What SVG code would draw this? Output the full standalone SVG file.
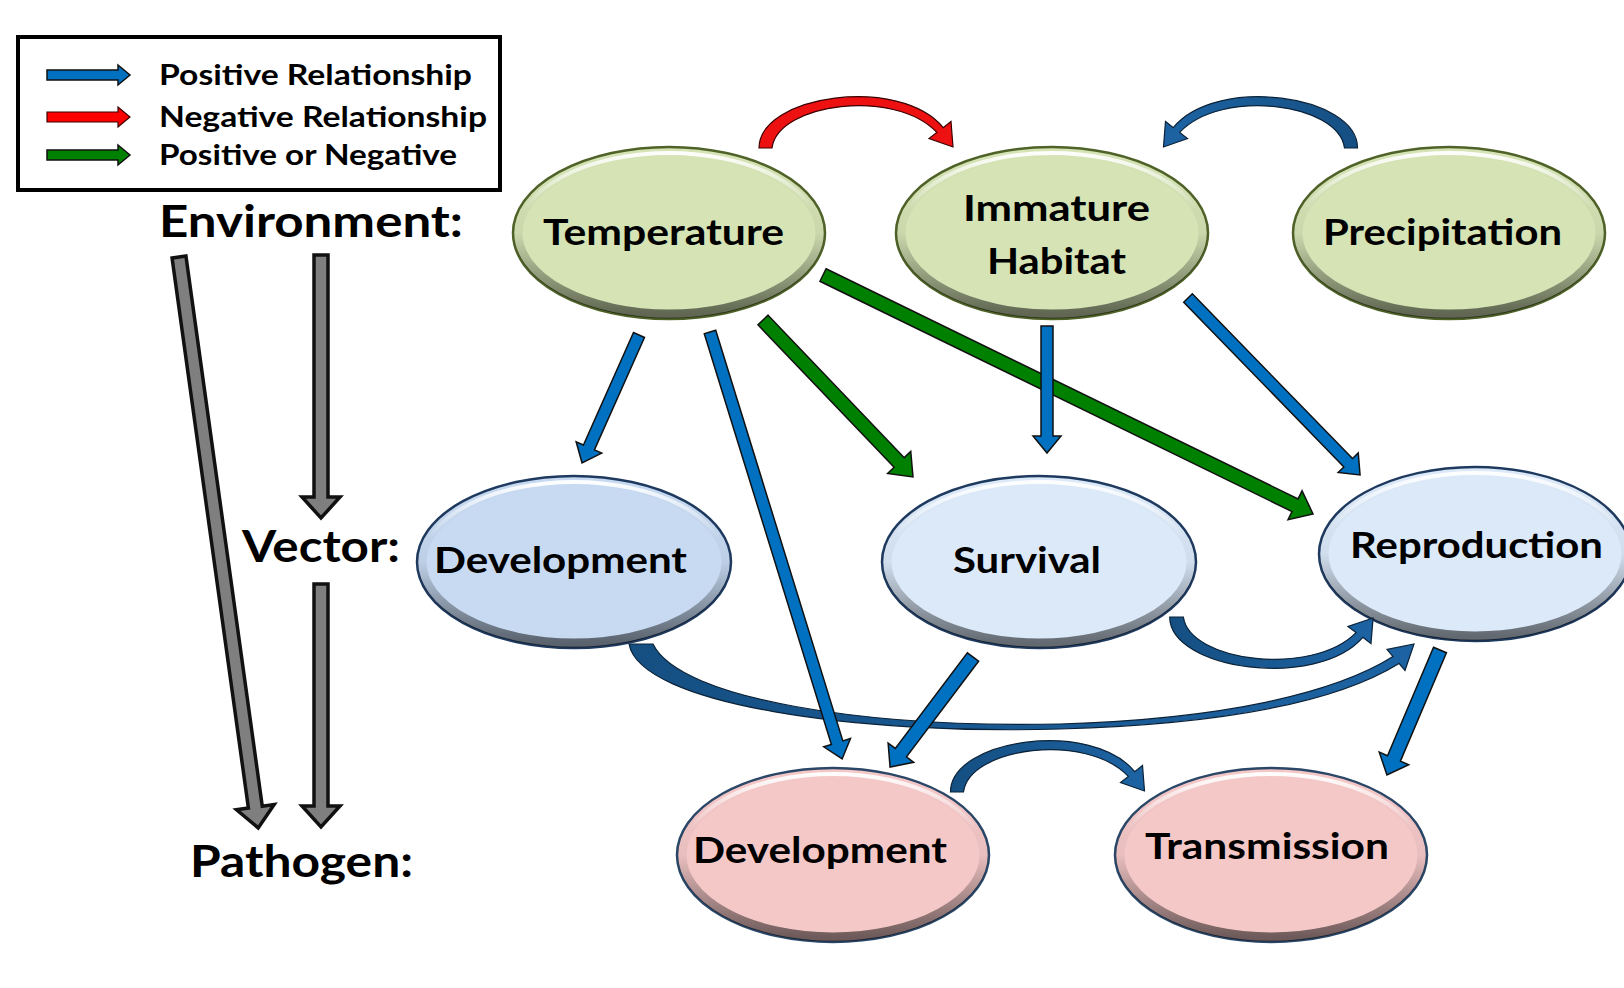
<svg xmlns="http://www.w3.org/2000/svg" xmlns:xlink="http://www.w3.org/1999/xlink" width="1624" height="988" viewBox="0 0 1624 988">
<defs>
<style>
.nt{font-family:Lato,"Liberation Sans",sans-serif;font-weight:bold;font-size:37px;fill:#000}
.lg{font-family:Lato,"Liberation Sans",sans-serif;font-weight:bold;font-size:29px;fill:#000}
.lb{font-family:Lato,"Liberation Sans",sans-serif;font-weight:bold;font-size:44px;fill:#000}
.env{fill:#d5e3b5;stroke:#4f6228;stroke-width:2.5}
.vec1{fill:#c7daf2;stroke:#1f3a5f;stroke-width:2.5}
.vec2{fill:#dbe9f9;stroke:#1f3a5f;stroke-width:2.5}
.pat{fill:#f5c8c8;stroke:#2b4768;stroke-width:2.5}
.rd{fill:none;stroke:url(#rimDark);stroke-width:9}
.rl{fill:none;stroke:url(#rimLight);stroke-width:4}
.pos{fill:#0070c0;stroke:#111;stroke-width:1.5;stroke-linejoin:miter}
.neg{fill:#ee1111;stroke:#3a0000;stroke-width:1.2}
.pon{fill:#008000;stroke:#111;stroke-width:1.5}
.gry{fill:#7f7f7f;stroke:#111;stroke-width:3.5}
.cb{fill:url(#curveBlue);stroke:#0b2238;stroke-width:1.2}
</style>
<linearGradient id="rimDark" x1="0" y1="0" x2="0" y2="1">
<stop offset="0" stop-color="#000" stop-opacity="0"/>
<stop offset="0.5" stop-color="#000" stop-opacity="0.05"/>
<stop offset="1" stop-color="#000" stop-opacity="0.55"/>
</linearGradient>
<linearGradient id="rimLight" x1="0" y1="0" x2="0" y2="1">
<stop offset="0" stop-color="#fff" stop-opacity="0.95"/>
<stop offset="0.35" stop-color="#fff" stop-opacity="0"/>
</linearGradient>
<linearGradient id="curveBlue" x1="0" y1="0" x2="1" y2="0">
<stop offset="0" stop-color="#154f82"/>
<stop offset="1" stop-color="#1d63a3"/>
</linearGradient>
<path id="arc" d="M759,148 C759,95 900,75 943.2,127.6 L951,121.5 L953,147 L929,138.5 L936.8,132.4 C895,88 778,103 772,148 Z"/>
</defs>
<rect width="1624" height="988" fill="#fff"/>

<g id="legend">
<rect x="18" y="37" width="482" height="153" fill="#fff" stroke="#000" stroke-width="4"/>
<polygon class="pos" points="47,70 118,70 118,65 130,75 118,85 118,80 47,80"/>
<polygon class="neg" points="47,112 118,112 118,107 130,117 118,127 118,122 47,122" style="fill:#ff0000"/>
<polygon class="pon" points="47,150 118,150 118,145 130,155 118,165 118,160 47,160"/>
<text class="lg" x="159" y="85" textLength="313" lengthAdjust="spacingAndGlyphs">Positive Relationship</text>
<text class="lg" x="159" y="127" textLength="328" lengthAdjust="spacingAndGlyphs">Negative Relationship</text>
<text class="lg" x="159" y="165" textLength="298" lengthAdjust="spacingAndGlyphs">Positive or Negative</text>
</g>

<g id="labels">
<text class="lb" x="159" y="237" textLength="304" lengthAdjust="spacingAndGlyphs">Environment:</text>
<text class="lb" x="242" y="562" textLength="158" lengthAdjust="spacingAndGlyphs">Vector:</text>
<text class="lb" x="190" y="877" textLength="223" lengthAdjust="spacingAndGlyphs">Pathogen:</text>
</g>

<g id="level-arrows">
<polygon class="gry" transform="translate(179,257) rotate(82.1)" points="0,-7 555.4,-7 555.4,-19 576.4,0 555.4,19 555.4,7 0,7"/>
<polygon class="gry" transform="translate(321,255) rotate(90)" points="0,-7 242,-7 242,-19 263,0 242,19 242,7 0,7"/>
<polygon class="gry" transform="translate(321,584) rotate(90)" points="0,-7 222,-7 222,-19 243,0 222,19 222,7 0,7"/>
</g>

<g id="n-temperature">
<ellipse class="env" cx="669" cy="233" rx="156" ry="86"/>
<ellipse class="rd" cx="669" cy="233" rx="151" ry="81"/>
<ellipse class="rl" cx="669" cy="233" rx="150" ry="80"/>
<text class="nt" x="543" y="245" textLength="241" lengthAdjust="spacingAndGlyphs">Temperature</text>
</g>
<g id="n-habitat">
<ellipse class="env" cx="1052" cy="233" rx="156" ry="86"/>
<ellipse class="rd" cx="1052" cy="233" rx="151" ry="81"/>
<ellipse class="rl" cx="1052" cy="233" rx="150" ry="80"/>
<text class="nt" x="963" y="221" textLength="187" lengthAdjust="spacingAndGlyphs">Immature</text>
<text class="nt" x="987" y="274" textLength="139" lengthAdjust="spacingAndGlyphs">Habitat</text>
</g>
<g id="n-precipitation">
<ellipse class="env" cx="1449" cy="233" rx="156" ry="86"/>
<ellipse class="rd" cx="1449" cy="233" rx="151" ry="81"/>
<ellipse class="rl" cx="1449" cy="233" rx="150" ry="80"/>
<text class="nt" x="1323" y="245" textLength="239" lengthAdjust="spacingAndGlyphs">Precipitation</text>
</g>
<g id="n-vdevelopment">
<ellipse class="vec1" cx="574" cy="562" rx="157" ry="86"/>
<ellipse class="rd" cx="574" cy="562" rx="152" ry="81"/>
<ellipse class="rl" cx="574" cy="562" rx="151" ry="80"/>
<text class="nt" x="434" y="573" textLength="253" lengthAdjust="spacingAndGlyphs">Development</text>
</g>
<g id="n-survival">
<ellipse class="vec2" cx="1039" cy="562" rx="157" ry="86"/>
<ellipse class="rd" cx="1039" cy="562" rx="152" ry="81"/>
<ellipse class="rl" cx="1039" cy="562" rx="151" ry="80"/>
<text class="nt" x="953" y="573" textLength="148" lengthAdjust="spacingAndGlyphs">Survival</text>
</g>
<g id="n-reproduction">
<ellipse class="vec2" cx="1475" cy="554" rx="156" ry="87"/>
<ellipse class="rd" cx="1475" cy="554" rx="151" ry="82"/>
<ellipse class="rl" cx="1475" cy="554" rx="150" ry="81"/>
<text class="nt" x="1350" y="558" textLength="253" lengthAdjust="spacingAndGlyphs">Reproduction</text>
</g>
<g id="n-pdevelopment">
<ellipse class="pat" cx="833" cy="855" rx="156" ry="87"/>
<ellipse class="rd" cx="833" cy="855" rx="151" ry="82"/>
<ellipse class="rl" cx="833" cy="855" rx="150" ry="81"/>
<text class="nt" x="693" y="863" textLength="254" lengthAdjust="spacingAndGlyphs">Development</text>
</g>
<g id="n-transmission">
<ellipse class="pat" cx="1271" cy="855" rx="156" ry="87"/>
<ellipse class="rd" cx="1271" cy="855" rx="151" ry="82"/>
<ellipse class="rl" cx="1271" cy="855" rx="150" ry="81"/>
<text class="nt" x="1145" y="859" textLength="244" lengthAdjust="spacingAndGlyphs">Transmission</text>
</g>

<g id="connectors">
<use href="#arc" xlink:href="#arc" class="neg"/>
<use href="#arc" xlink:href="#arc" class="cb" transform="translate(2116.5,0) scale(-1,1)"/>
<use href="#arc" xlink:href="#arc" class="cb" transform="matrix(1.048,0,0,-1,374.3,765)"/>
<use href="#arc" xlink:href="#arc" class="cb" transform="translate(191.5,644)"/>
<path class="cb" d="M629,644 C640,705 860,735 1060,729 C1230,724 1340,700 1399,663.4 L1405,670.5 L1414,644 L1387,649.5 L1393,656.6 C1335,693 1225,719 1060,724 C870,728 680,700 653,644 Z"/>
<polygon class="pos" transform="translate(639,335) rotate(114)" points="0,-6 123.1,-6 123.1,-14 140.1,0 123.1,14 123.1,6 0,6"/>
<polygon class="pos" transform="translate(710,332) rotate(72.8)" points="0,-6 429.9,-6 429.9,-14 446.9,0 429.9,14 429.9,6 0,6"/>
<polygon class="pon" transform="translate(763,320) rotate(46.3)" points="0,-7 197.1,-7 197.1,-16 217.1,0 197.1,16 197.1,7 0,7"/>
<polygon class="pon" transform="translate(823,275) rotate(26)" points="0,-7 525.2,-7 525.2,-16 545.2,0 525.2,16 525.2,7 0,7"/>
<polygon class="pos" transform="translate(1047,326) rotate(90)" points="0,-6 110,-6 110,-14 127,0 110,14 110,6 0,6"/>
<polygon class="pos" transform="translate(1188,298) rotate(45.8)" points="0,-6 229.8,-6 229.8,-14 246.8,0 229.8,14 229.8,6 0,6"/>
<polygon class="pos" transform="translate(973,657) rotate(127)" points="0,-7 119.8,-7 119.8,-16 137.8,0 119.8,16 119.8,7 0,7"/>
<polygon class="pos" transform="translate(1440,650) rotate(113)" points="0,-7 117.8,-7 117.8,-16 135.8,0 117.8,16 117.8,7 0,7"/>
</g>
</svg>
